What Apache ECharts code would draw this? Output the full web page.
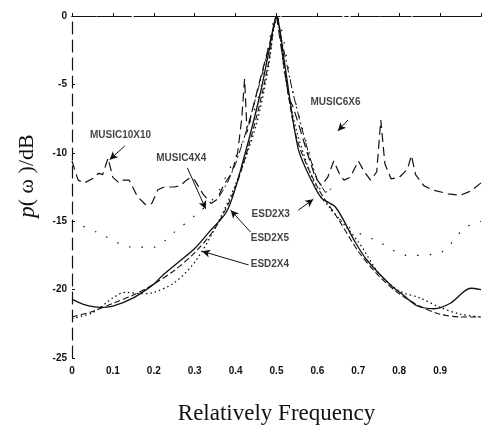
<!DOCTYPE html>
<html>
<head>
<meta charset="utf-8">
<script src="https://cdn.jsdelivr.net/npm/echarts@6/dist/echarts.min.js"></script>
<style>html,body{margin:0;padding:0;background:#fff}#c{width:484px;height:430px}</style>
</head>
<body>
<div id="c"></div>
<script>
// ---- data ----
const xTicks = [0, 0.1, 0.2, 0.3, 0.4, 0.5, 0.6, 0.7, 0.8, 0.9];
const yTicks = [0, -5, -10, -15, -20, -25];

const music10x10 = [
  [0.000,-10.6],[0.015,-12.0],[0.030,-12.2],[0.050,-11.9],[0.065,-11.5],[0.075,-11.6],
  [0.088,-10.4],[0.100,-11.8],[0.115,-12.2],[0.125,-12.0],[0.140,-12.0],[0.160,-13.2],
  [0.180,-13.8],[0.195,-13.7],[0.210,-12.7],[0.225,-12.5],[0.250,-12.5],[0.265,-12.4],
  [0.280,-12.0],[0.290,-11.8],[0.300,-12.0],[0.320,-13.0],[0.340,-13.7],[0.355,-13.4],
  [0.370,-12.4],[0.390,-11.5],[0.405,-10.0],[0.415,-7.5],[0.422,-4.6],[0.428,-8.5],
  [0.440,-7.0],[0.455,-5.2],[0.470,-3.5],[0.485,-1.8],[0.500,0],[0.515,-3.0],
  [0.530,-6.0],[0.540,-6.6],[0.555,-8.0],[0.575,-10.0],[0.595,-11.8],[0.610,-12.4],
  [0.625,-11.8],[0.640,-10.6],[0.655,-11.6],[0.665,-12.0],[0.680,-11.8],[0.700,-10.6],
  [0.715,-11.4],[0.730,-12.0],[0.745,-11.4],[0.755,-7.6],[0.765,-10.8],[0.780,-11.9],
  [0.800,-11.8],[0.820,-11.2],[0.830,-10.2],[0.840,-11.6],[0.860,-12.4],[0.880,-12.7],
  [0.920,-13.0],[0.950,-13.1],[0.975,-12.8],[1.000,-12.2]
];
const music6x6 = [
  [0.36,-13.2],[0.38,-12.2],[0.40,-10.8],[0.42,-9.0],[0.44,-7.0],[0.46,-4.8],[0.48,-2.5],
  [0.50,0],[0.52,-2.8],[0.54,-5.6],[0.56,-8.0],[0.58,-10.2],[0.60,-12.0],[0.62,-12.9],[0.64,-12.5]
];
const music4x4 = [
  [0.00,-15.0],[0.06,-15.8],[0.15,-16.9],[0.20,-16.9],[0.25,-15.8],[0.30,-14.6],[0.35,-13.2],
  [0.38,-11.5],[0.42,-9.0],[0.46,-5.5],[0.50,0],[0.54,-5.5],[0.58,-10.0],[0.62,-13.6],
  [0.68,-15.5],[0.75,-16.5],[0.82,-17.5],[0.90,-17.3],[0.96,-15.5],[1.00,-15.0]
];
const esd2x3 = [
  [0.00,-20.7],[0.03,-21.1],[0.07,-21.3],[0.10,-21.2],[0.15,-20.6],[0.20,-19.6],[0.22,-19.0],
  [0.26,-18.0],[0.30,-17.0],[0.335,-15.8],[0.38,-14.2],[0.42,-10.4],[0.46,-5.7],[0.48,-2.8],
  [0.50,0],[0.52,-3.5],[0.553,-9.7],[0.585,-12.0],[0.61,-13.3],[0.645,-14.0],[0.69,-16.4],
  [0.72,-17.8],[0.78,-19.7],[0.81,-20.4],[0.845,-21.2],[0.885,-21.4],[0.925,-21.0],
  [0.975,-19.9],[1.00,-20.0]
];
const esd2x4 = [
  [0.00,-22.0],[0.05,-21.6],[0.10,-21.0],[0.15,-20.4],[0.20,-19.6],[0.25,-18.6],[0.30,-17.3],
  [0.35,-15.5],[0.40,-12.5],[0.45,-7.5],[0.48,-3.5],[0.50,0],[0.52,-4.0],[0.55,-9.0],
  [0.60,-12.5],[0.65,-14.8],[0.70,-17.2],[0.75,-19.0],[0.80,-20.3],[0.85,-21.2],[0.90,-21.8],
  [0.95,-22.0],[1.00,-22.0]
];
const esd2x5 = [
  [0.00,-22.1],[0.05,-21.7],[0.10,-20.6],[0.13,-20.2],[0.17,-20.3],[0.20,-20.2],[0.25,-19.5],
  [0.30,-18.0],[0.35,-15.5],[0.40,-12.3],[0.45,-8.0],[0.48,-3.8],[0.50,0],[0.52,-4.2],
  [0.55,-8.5],[0.60,-12.8],[0.63,-14.0],[0.70,-16.5],[0.75,-18.8],[0.80,-20.1],[0.85,-20.6],
  [0.90,-21.3],[0.95,-21.8],[1.00,-22.0]
];

// annotation text anchors (left-middle of text, data coords)
const labelNames = ['MUSIC10X10','MUSIC4X4','MUSIC6X6','ESD2X3','ESD2X5','ESD2X4'];
const labelPos = [[0.044,-8.72],[0.206,-10.38],[0.583,-6.27],[0.439,-14.49],[0.437,-16.22],[0.437,-18.17]];
// arrows: [from, to]
const arrows = [
  [[0.129,-9.5],[0.092,-10.5]],
  [[0.282,-11.1],[0.327,-14.1]],
  [[0.675,-7.6],[0.650,-8.4]],
  [[0.553,-14.2],[0.590,-13.4]],
  [[0.437,-15.8],[0.388,-14.2]],
  [[0.432,-18.2],[0.318,-17.2]]
];

const chart = echarts.init(document.getElementById('c'), null, {renderer:'canvas'});
const lbl = {fontFamily:'Liberation Sans, Arial, sans-serif', fontWeight:'bold', fontSize:10, color:'#111'};
const serif = 'Liberation Serif, Times New Roman, serif';
function ln(name, data, type, width, smooth){
  return {name, type:'line', data, showSymbol:false, smooth: smooth ? 0.3 : false,
    lineStyle:{color:'#111', width, type}, silent:true, z:3};
}
chart.setOption({
  animation:false,
  backgroundColor:'#fff',
  grid:{left:72, right:0, top:16, bottom:67},
  xAxis:[{
    type:'value', min:0, max:1, interval:0.1,
    name:'Relatively Frequency', nameLocation:'middle', nameGap:44,
    nameTextStyle:{fontFamily:serif, fontSize:23, color:'#111'},
    axisLine:{lineStyle:{color:'#111', width:1.2, type:[22,3,3,3]}},
    axisTick:{inside:true, length:3, lineStyle:{color:'#111'}},
    axisLabel:Object.assign({margin:8, formatter:v => xTicks.some(t => Math.abs(t-v)<1e-6) ? (v===0?'0':v.toFixed(1)) : ''}, lbl),
    splitLine:{show:false}
  },{
    type:'value', min:0, max:1, position:'top',
    axisLine:{show:true, lineStyle:{color:'#111', width:1.2, type:[24,4,3,4]}},
    axisTick:{show:false}, axisLabel:{show:false}, splitLine:{show:false}
  }],
  yAxis:{
    type:'value', min:-25, max:0, interval:5,
    name:'    {i|p}( ω )/dB', nameLocation:'middle', nameGap:33, nameRotate:90,
    nameTextStyle:{fontFamily:serif, fontSize:22, color:'#111',
      rich:{i:{fontStyle:'italic', fontFamily:serif, fontSize:23, color:'#111'}}},
    axisLine:{show:true, lineStyle:{color:'#111', width:1.2, type:[12,6]}},
    axisTick:{inside:true, length:3, lineStyle:{color:'#111'}},
    axisLabel:Object.assign({margin:5, formatter:v => yTicks.indexOf(v)>=0 ? String(v) : ''}, lbl),
    splitLine:{show:false}
  },
  series:[
    ln('MUSIC10X10', music10x10, [9,5], 1.2, false),
    ln('MUSIC6X6', music6x6, [8,3,2,3], 1.0, false),
    ln('MUSIC4X4', music4x4, [1.5,11], 1.2, true),
    ln('ESD2X3', esd2x3, 'solid', 1.3, true),
    ln('ESD2X4', esd2x4, [6,3], 1.1, true),
    ln('ESD2X5', esd2x5, [1.5,3], 1.3, true),
    {
      name:'labels', type:'scatter', symbolSize:0, silent:true, z:5,
      data: labelNames.map((n,i) => ({name:n, value:labelPos[i]})),
      label:Object.assign({show:true, position:'right', distance:0, formatter:p => p.name}, lbl),
      markLine:{
        silent:true, symbol:['none','arrow'], symbolSize:[6,8], animation:false,
        lineStyle:{color:'#111', width:1, type:'solid'}, label:{show:false},
        data: arrows.map(a => [{coord:a[0]},{coord:a[1]}])
      }
    }
  ]
});
</script>
</body>
</html>
